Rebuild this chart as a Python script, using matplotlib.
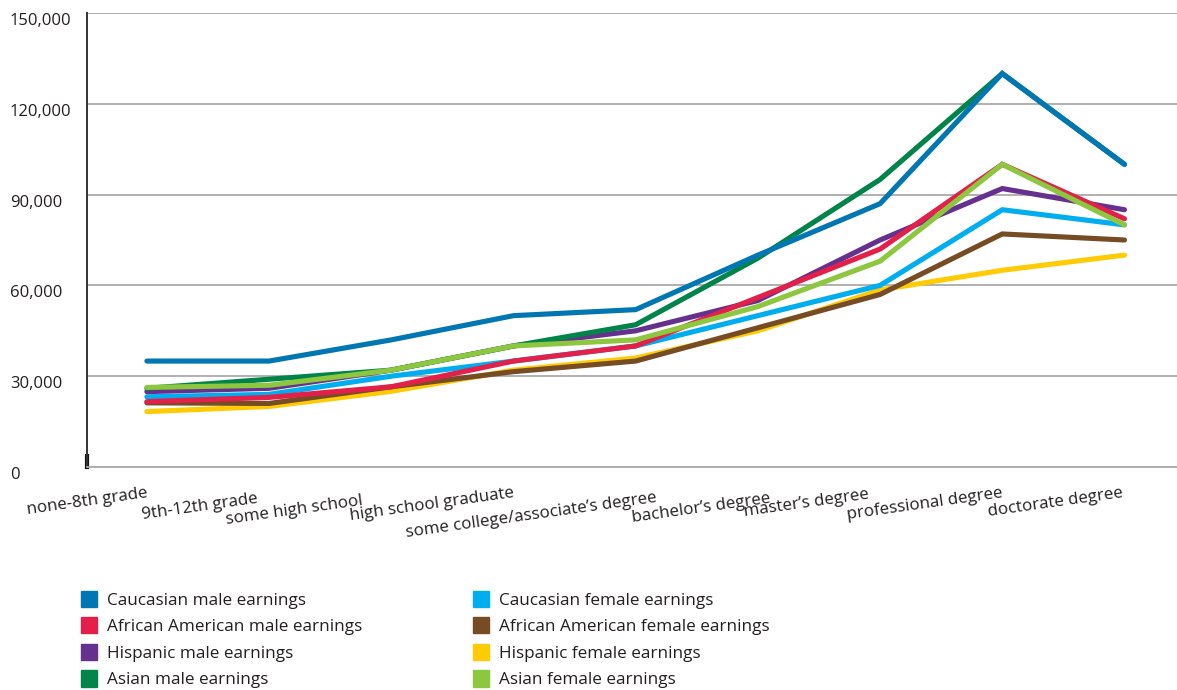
import matplotlib.pyplot as plt
from matplotlib.patches import Patch
import numpy as np

plt.rcParams['font.family'] = ['Open Sans', 'DejaVu Sans']

levels = ['none-8th grade', '9th-12th grade', 'some high school', 'high school graduate',
          'some college/associate\u2019s degree', 'bachelor\u2019s degree', 'master\u2019s degree',
          'professional degree', 'doctorate degree']

# annual earnings by education level
caucasian_male = [35000, 35000, 42000, 50000, 52000, 70000, 87000, 130000, 100000]
african_american_male = [21600, 23000, 26500, 35000, 40000, 56000, 72000, 100000, 82000]
hispanic_male = [24900, 26000, 32000, 40000, 45000, 55000, 75000, 92000, 85000]
asian_male = [26000, 29000, 32000, 40000, 47000, 69000, 95000, 130000, 100000]
caucasian_female = [23200, 24000, 30000, 35000, 40000, 50000, 60000, 85000, 80000]
african_american_female = [21200, 21000, 26500, 31500, 35000, 46000, 57000, 77000, 75000]
hispanic_female = [18300, 20000, 25000, 32000, 36000, 45000, 58500, 65000, 70000]
asian_female = [26300, 27000, 32000, 40000, 42000, 53000, 68000, 100000, 80000]

yticks = [0, 30000, 60000, 90000, 120000, 150000]

male_names = ['Caucasian male earnings', 'African American male earnings',
              'Hispanic male earnings', 'Asian male earnings']
female_names = ['Caucasian female earnings', 'African American female earnings',
                'Hispanic female earnings', 'Asian female earnings']
male_colors = ['#0077b3', '#e2204a', '#66308f', '#00844a']
female_colors = ['#00aeef', '#754c24', '#ffcb05', '#8dc63f']

# hand-set nudges (pixels) for the slanted category labels: right end x shift, baseline drop
label_dx = [1, -11, -28, 1, 22, 13, -11, 1, -1]
label_dy = [30, 36, 38, 30, 35, 36, 31, 30, 30]

fig = plt.figure(figsize=(11.77, 6.9), dpi=100)
ax = fig.add_axes([87 / 1177, 1 - 467 / 690, 1 - 87 / 1177, 454 / 690])

x = np.arange(len(levels))
# drawing order so that overlapping lines stack the same way
series = [
    (hispanic_female, female_colors[2]),
    (african_american_female, female_colors[1]),
    (caucasian_female, female_colors[0]),
    (hispanic_male, male_colors[2]),
    (african_american_male, male_colors[1]),
    (asian_male, male_colors[3]),
    (asian_female, female_colors[3]),
    (caucasian_male, male_colors[0]),
]
for vals, c in series:
    ax.plot(x, vals, color=c, lw=3.7, solid_capstyle='round', solid_joinstyle='miter', zorder=3)

ax.set_xlim(-0.49, len(levels) - 1 + 0.43)
ax.set_ylim(0, 150000)
ax.set_yticks(yticks)
ax.set_xticks(x)
ax.yaxis.grid(True, color='#aaaaaa', lw=1.3)
ax.set_axisbelow(True)
ax.tick_params(axis='both', length=0, labelleft=False, labelbottom=False)

for v in yticks:
    ax.annotate(f'{v:,}', xy=(0, v), xycoords=('axes fraction', 'data'),
                xytext=(-77, -8), textcoords='offset pixels',
                ha='left', va='center', fontsize=12, color='#231f20')

for i, lab in enumerate(levels):
    ax.annotate(lab, xy=(i, 0), xycoords=('data', 'axes fraction'),
                xytext=(label_dx[i], -label_dy[i]), textcoords='offset pixels',
                ha='right', va='baseline', rotation=8, rotation_mode='anchor',
                fontsize=12.2, color='#231f20')

for side in ['top', 'right']:
    ax.spines[side].set_visible(False)
ax.spines['left'].set_color('#333333')
ax.spines['left'].set_linewidth(1.4)
ax.spines['bottom'].set_color('#aaaaaa')
ax.spines['bottom'].set_linewidth(1.3)
ax.plot([0, 0], [0, 0.025], transform=ax.transAxes, color='#111111', lw=3, clip_on=False)

male_handles = [Patch(color=c) for c in male_colors]
female_handles = [Patch(color=c) for c in female_colors]
leg_kw = dict(loc='upper left', frameon=False, fontsize=12.3, handlelength=0.95,
              handleheight=1.1, handletextpad=0.6, labelspacing=0.5, borderpad=0,
              labelcolor='#231f20')
fig.legend(male_handles, male_names, bbox_to_anchor=(72 / 1177, 1 - 582 / 690), **leg_kw)
fig.legend(female_handles, female_names, bbox_to_anchor=(464 / 1177, 1 - 582 / 690), **leg_kw)

fig.savefig('out.png', dpi=100)
